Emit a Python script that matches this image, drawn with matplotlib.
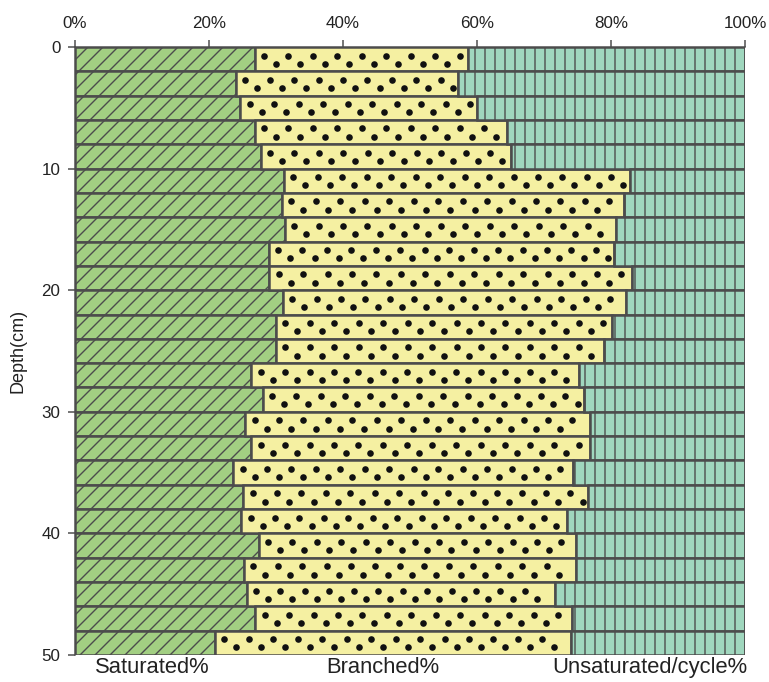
import numpy as np
import matplotlib
matplotlib.use("Agg")
import matplotlib.pyplot as plt

plt.rcParams['font.family'] = ['Liberation Sans', 'DejaVu Sans']
plt.rcParams['hatch.linewidth'] = 0.55

# depth intervals (cm), top of each 2 cm slice
depth_top = [0, 2, 4, 6, 8, 10, 12, 14, 16, 18, 20, 22, 24,
             26, 28, 30, 32, 34, 36, 38, 40, 42, 44, 46, 48]

saturated = [26.8, 24.0, 24.7, 26.8, 27.7, 31.2, 30.9, 31.3, 28.9, 29.0, 31.0, 30.0, 30.0,
             26.3, 28.0, 25.4, 26.3, 23.6, 25.1, 24.8, 27.4, 25.2, 25.6, 26.9, 20.9]
branched = [31.8, 33.2, 35.3, 37.7, 37.4, 51.7, 51.1, 49.4, 51.6, 54.2, 51.2, 50.2, 48.9,
            48.9, 47.9, 51.4, 50.5, 50.8, 51.5, 48.6, 47.4, 49.6, 46.0, 47.3, 53.1]
unsaturated = [41.4, 42.8, 40.0, 35.5, 34.9, 17.1, 18.0, 19.3, 19.5, 16.8, 17.8, 19.8, 21.1,
               24.8, 24.1, 23.2, 23.2, 25.6, 23.4, 26.6, 25.2, 25.2, 28.4, 25.8, 26.0]

labels = ['Saturated%', 'Branched%', 'Unsaturated/cycle%']
label_x = [11.5, 46.0, 85.8]

dpi = 180
fig = plt.figure(figsize=(769 / dpi, 682 / dpi), dpi=dpi)
ax = fig.add_axes([75 / 769, 1 - 655 / 682, 670 / 769, 608 / 682])

slice_h = 2.0
centers = np.array(depth_top) + slice_h / 2
sat = np.array(saturated)
br = np.array(branched)
un = np.array(unsaturated)

edge = '#4c4c4c'
ax.barh(centers, sat, height=slice_h, left=0, color='#a2cf82',
        edgecolor=edge, linewidth=1.0, hatch='////')
ax.barh(centers, br, height=slice_h, left=sat, color='#f5f0a2',
        edgecolor=edge, linewidth=1.0)
ax.barh(centers, un, height=slice_h, left=sat + br, color='#a0d7be',
        edgecolor=edge, linewidth=1.0, hatch='|||')

# staggered dot fill for the branched segment
step = 3.65
dx, dy = [], []
for c, l, w in zip(centers, sat, br):
    r = l + w
    for off, yo in ((1.4, -0.30), (3.2, 0.38)):
        xs = np.arange(l + off, r - 0.8, step)
        dx.extend(xs)
        dy.extend([c + yo] * len(xs))
ax.scatter(dx, dy, s=7, color='#111111', linewidths=0, zorder=3)

ax.set_xlim(0, 100)
ax.set_ylim(50, 0)
ax.xaxis.tick_top()
ax.set_xticks([0, 20, 40, 60, 80, 100])
ax.set_xticklabels(['0%', '20%', '40%', '60%', '80%', '100%'])
ax.set_yticks([0, 10, 20, 30, 40, 50])
ax.tick_params(axis='x', length=2.8, width=0.6, color=edge, pad=3.5,
               labelsize=6.8, labelcolor='#222222')
ax.tick_params(axis='y', length=2.8, width=0.6, color=edge, pad=3.0,
               labelsize=6.8, labelcolor='#222222')
for side in ('right', 'bottom'):
    ax.spines[side].set_visible(False)
for side in ('left', 'top'):
    ax.spines[side].set_color(edge)
    ax.spines[side].set_linewidth(0.6)

ax.set_ylabel('Depth(cm)', fontsize=7.2, color='#222222', labelpad=6)

for name, x in zip(labels, label_x):
    ax.text(x, -0.02, name, transform=ax.get_xaxis_transform(),
            ha='center', va='center', fontsize=8.8, color='#222222')

fig.savefig('out.png', dpi=dpi)
